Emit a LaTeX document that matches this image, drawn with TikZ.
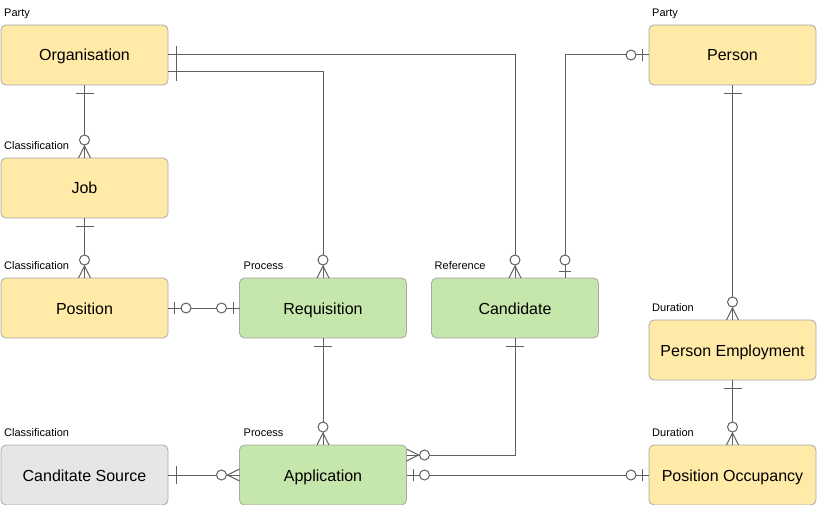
\documentclass[tikz,border=0pt]{standalone}
\usepackage{fontspec}
\setmainfont{Liberation Sans}
\definecolor{yfill}{HTML}{FFEAA8}
\definecolor{gfill}{HTML}{C6E7AB}
\definecolor{sfill}{HTML}{E6E6E6}
\definecolor{bdr}{HTML}{A8A8A8}
\definecolor{lncol}{HTML}{606060}
\tikzset{
  ent/.style={draw=bdr, line width=0.8pt, rounded corners=5pt, minimum width=167pt, minimum height=60pt,
    outer sep=0pt, inner sep=0pt, text height=14pt, text depth=2pt, font=\fontsize{16}{19}\selectfont},
  yent/.style={ent, fill=yfill},
  gent/.style={ent, fill=gfill},
  sent/.style={ent, fill=sfill},
  lbl/.style={anchor=base west, inner sep=0pt, font=\fontsize{11}{13}\selectfont},
  erline/.style={draw=lncol, line width=1pt},
  erone/.pic={\draw[erline] (8.5pt,-9pt)--(8.5pt,9pt);},
  erzeroone/.pic={\draw[erline] (6.5pt,-6pt)--(6.5pt,6pt);
                  \draw[erline, fill=white] (18pt,0pt) circle[radius=5pt];},
  erzeromany/.pic={\draw[erline] (12pt,0pt)--(0pt,-6pt) (12pt,0pt)--(0pt,6pt);
                   \draw[erline, fill=white] (18pt,0pt) circle[radius=5pt];},
}
\begin{document}
\begin{tikzpicture}[x=1pt, y=-1pt]
\useasboundingbox (0,0) rectangle (817,505);
% entities
\node[yent] (org) at (84.5,55) {Organisation};
\node[yent] (job) at (84.5,188) {Job};
\node[yent] (pos) at (84.5,308) {Position};
\node[sent] (src) at (84.5,475) {Canditate Source};
\node[gent] (req) at (323,308) {Requisition};
\node[gent] (app) at (323,475) {Application};
\node[gent] (cand) at (515,308) {Candidate};
\node[yent] (person) at (732.5,55) {Person};
\node[yent] (pe) at (732.5,350) {Person Employment};
\node[yent] (po) at (732.5,475) {Position Occupancy};
% labels
\node[lbl] at ([shift={(3pt,8.5pt)}]org.north west) {Party};
\node[lbl] at ([shift={(3pt,8.5pt)}]job.north west) {Classification};
\node[lbl] at ([shift={(3pt,8.5pt)}]pos.north west) {Classification};
\node[lbl] at ([shift={(3pt,8.5pt)}]src.north west) {Classification};
\node[lbl] at ([shift={(4pt,8.5pt)}]req.north west) {Process};
\node[lbl] at ([shift={(4pt,8.5pt)}]app.north west) {Process};
\node[lbl] at ([shift={(3pt,8.5pt)}]cand.north west) {Reference};
\node[lbl] at ([shift={(3pt,8.5pt)}]person.north west) {Party};
\node[lbl] at ([shift={(3pt,8.5pt)}]pe.north west) {Duration};
\node[lbl] at ([shift={(3pt,8.5pt)}]po.north west) {Duration};
% named connector points
\coordinate (orgB) at ([yshift=-17pt]org.east);
\coordinate (candR) at ([xshift=50pt]cand.north);
\coordinate (appR) at ([yshift=20pt]app.east);
% connectors
\draw[erline] (org.east) -| (cand.north);
\draw[erline] (orgB) -| (req.north);
\draw[erline] (person.west) -| (candR);
\draw[erline] (org.south) -- (job.north);
\draw[erline] (job.south) -- (pos.north);
\draw[erline] (pos.east) -- (req.west);
\draw[erline] (req.south) -- (app.north);
\draw[erline] (cand.south) |- (appR);
\draw[erline] (app.east) -- (po.west);
\draw[erline] (src.east) -- (app.west);
\draw[erline] (person.south) -- (pe.north);
\draw[erline] (pe.south) -- (po.north);
% ends
\pic[rotate=0] at (org.east) {erone};
\pic[rotate=0] at (orgB) {erone};
\pic[rotate=90] at (cand.north) {erzeromany};
\pic[rotate=90] at (req.north) {erzeromany};
\pic[rotate=180] at (person.west) {erzeroone};
\pic[rotate=90] at (candR) {erzeroone};
\pic[rotate=270] at (org.south) {erone};
\pic[rotate=90] at (job.north) {erzeromany};
\pic[rotate=270] at (job.south) {erone};
\pic[rotate=90] at (pos.north) {erzeromany};
\pic[rotate=0] at (pos.east) {erzeroone};
\pic[rotate=180] at (req.west) {erzeroone};
\pic[rotate=270] at (req.south) {erone};
\pic[rotate=90] at (app.north) {erzeromany};
\pic[rotate=270] at (cand.south) {erone};
\pic[rotate=0] at (appR) {erzeromany};
\pic[rotate=0] at (app.east) {erzeroone};
\pic[rotate=180] at (po.west) {erzeroone};
\pic[rotate=0] at (src.east) {erone};
\pic[rotate=180] at (app.west) {erzeromany};
\pic[rotate=270] at (person.south) {erone};
\pic[rotate=90] at (pe.north) {erzeromany};
\pic[rotate=270] at (pe.south) {erone};
\pic[rotate=90] at (po.north) {erzeromany};
\end{tikzpicture}
\end{document}
